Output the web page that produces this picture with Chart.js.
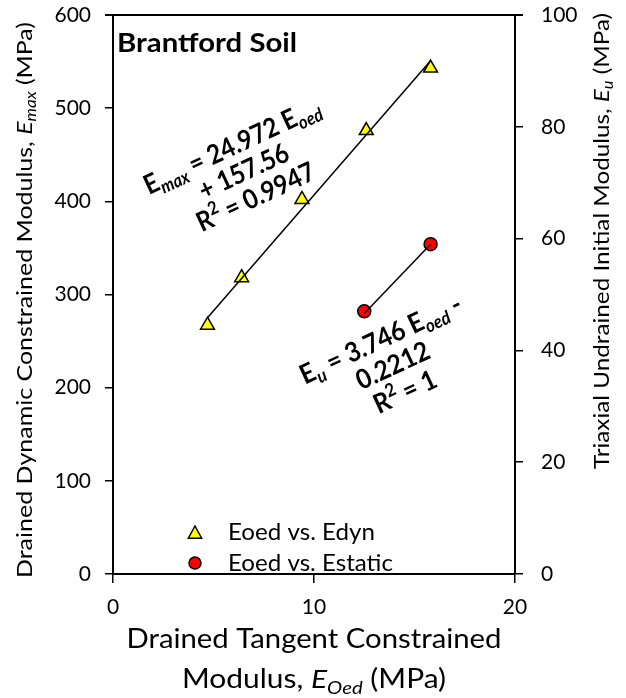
<!DOCTYPE html>
<html lang="en">
<head>
    <meta charset="UTF-8">
    <title>Brantford Soil</title>
    <script src="https://cdn.jsdelivr.net/npm/chart.js"></script>
    <style>
        html, body { margin: 0; padding: 0; background: #fff; }
        #wrap { width: 626px; height: 698px; }
    </style>
</head>
<body>
    <div id="wrap"><canvas id="soilChart" width="626" height="698"></canvas></div>
    <script>
        // Eoed vs. Edyn (left axis, MPa)
        const eoedDyn = [4.7, 6.4, 9.4, 12.6, 15.8];
        const edyn = [267, 318, 402, 476, 543];
        // trendline end points
        const trendDynX = [4.7, 15.8];
        const trendDynY = [275, 551];

        // Eoed vs. Estatic (right axis, MPa)
        const eoedStatic = [12.5, 15.8];
        const estatic = [47, 59];
        const trendStaticX = [12.5, 15.8];
        const trendStaticY = [46.6, 59];

        const xTicks = [0, 10, 20];
        const yTicks = [0, 100, 200, 300, 400, 500, 600];
        const y2Ticks = [0, 20, 40, 60, 80, 100];

        const FONT = 'Lato';
        const pts = (xs, ys) => xs.map((x, i) => ({ x: x, y: ys[i] }));

        // draw a line of text made of pieces (subscript / superscript / italic)
        // fit: a target width (>1) or a squeeze factor (<=1)
        function drawParts(ctx, parts, x, y, size, bold, align, fit) {
            const fontOf = p => {
                const s = (p.sub || p.sup) ? size * 0.68 : size;
                return (p.italic ? 'italic ' : '') + (bold ? 'bold ' : '') + s + 'px ' + FONT;
            };
            let w = 0;
            parts.forEach(p => { ctx.font = fontOf(p); p.w = ctx.measureText(p.t).width; w += p.w; });
            let sx = 1;
            if (fit) sx = fit > 1 ? fit / w : fit;
            ctx.save();
            ctx.translate(x, y);
            ctx.scale(sx, 1);
            let cx = align === 'center' ? -w / 2 : 0;
            ctx.textBaseline = 'middle';
            ctx.textAlign = 'left';
            ctx.fillStyle = '#000';
            parts.forEach(p => {
                ctx.font = fontOf(p);
                const dy = p.sub ? size * 0.3 : (p.sup ? -size * 0.3 : 0);
                ctx.fillText(p.t, cx, dy);
                cx += p.w;
            });
            ctx.restore();
        }

        function drawBlock(ctx, lines, cx, cy, deg, size, lh, squeeze) {
            ctx.save();
            ctx.translate(cx, cy);
            ctx.rotate(deg * Math.PI / 180);
            const n = lines.length;
            lines.forEach((parts, i) => {
                drawParts(ctx, parts, 0, (i - (n - 1) / 2) * lh, size, true, 'center', squeeze);
            });
            ctx.restore();
        }

        const extras = {
            id: 'extras',
            afterDraw(chart) {
                const ctx = chart.ctx;
                const a = chart.chartArea;

                // top frame line
                ctx.save();
                ctx.strokeStyle = '#000';
                ctx.lineWidth = 2;
                ctx.beginPath();
                ctx.moveTo(a.left - 8, a.top);
                ctx.lineTo(a.right + 8, a.top);
                ctx.stroke();
                ctx.restore();

                // axis titles
                ctx.save();
                ctx.translate(25, 300);
                ctx.rotate(-Math.PI / 2);
                drawParts(ctx, [
                    { t: 'Drained Dynamic Constrained Modulus, ' },
                    { t: 'E', italic: true },
                    { t: 'max', sub: true, italic: true },
                    { t: ' (MPa)' }
                ], 0, 0, 22, false, 'center', 556);
                ctx.restore();

                ctx.save();
                ctx.translate(602, 241);
                ctx.rotate(-Math.PI / 2);
                drawParts(ctx, [
                    { t: 'Triaxial Undrained Initial Modulus, ' },
                    { t: 'E', italic: true },
                    { t: 'u', sub: true, italic: true },
                    { t: ' (MPa)' }
                ], 0, 0, 22, false, 'center', 456);
                ctx.restore();

                drawParts(ctx, [{ t: 'Drained Tangent Constrained' }], 314, 640, 26, false, 'center', 375);
                drawParts(ctx, [
                    { t: 'Modulus, ' },
                    { t: 'E', italic: true },
                    { t: 'Oed', sub: true, italic: true },
                    { t: ' (MPa)' }
                ], 314, 680, 26, false, 'center', 264);

                // label and equations
                drawParts(ctx, [{ t: 'Brantford Soil' }], 117, 43, 27, true, 'left', 180);

                drawBlock(ctx, [
                    [{ t: 'E' }, { t: 'max', sub: true, italic: true }, { t: ' = 24.972 E' }, { t: 'oed', sub: true, italic: true }],
                    [{ t: '+ 157.56' }],
                    [{ t: 'R' }, { t: '2', sup: true }, { t: ' = 0.9947' }]
                ], 244, 172, -25, 27, 28, 0.9);

                drawBlock(ctx, [
                    [{ t: 'E' }, { t: 'u', sub: true, italic: true }, { t: ' = 3.746 E' }, { t: 'oed', sub: true, italic: true }, { t: ' -' }],
                    [{ t: '0.2212' }],
                    [{ t: 'R' }, { t: '2', sup: true }, { t: ' = 1' }]
                ], 393, 366, -25, 27, 29, 0.92);

                // legend, clipped to plot area
                ctx.save();
                ctx.beginPath();
                ctx.rect(a.left, a.top, a.right - a.left, a.bottom - a.top - 1);
                ctx.clip();
                ctx.lineWidth = 1.5;
                ctx.strokeStyle = '#000';
                ctx.fillStyle = '#ffff00';
                const tx = 195, ty = 533, r = 7;
                ctx.beginPath();
                ctx.moveTo(tx, ty - r);
                ctx.lineTo(tx + r * 0.95, ty + r * 0.75);
                ctx.lineTo(tx - r * 0.95, ty + r * 0.75);
                ctx.closePath();
                ctx.fill();
                ctx.stroke();
                ctx.fillStyle = '#ff0000';
                ctx.beginPath();
                ctx.arc(195, 563, 6, 0, Math.PI * 2);
                ctx.fill();
                ctx.stroke();
                drawParts(ctx, [{ t: 'Eoed vs. Edyn' }], 228, 533, 23, false, 'left', 147);
                drawParts(ctx, [{ t: 'Eoed vs. Estatic' }], 228, 564, 23, false, 'left', 165);
                ctx.restore();
            }
        };

        const tickFont = { family: FONT, size: 21 };
        const noPad = s => { s.paddingTop = 0; s.paddingBottom = 0; s.paddingLeft = 0; s.paddingRight = 0; };

        new Chart(document.getElementById('soilChart'), {
            type: 'scatter',
            data: {
                datasets: [
                    {
                        label: 'Eoed vs. Edyn',
                        data: pts(eoedDyn, edyn),
                        yAxisID: 'y',
                        pointStyle: 'triangle',
                        pointRadius: 8,
                        pointHoverRadius: 8,
                        backgroundColor: '#ffff00',
                        borderColor: '#000',
                        borderWidth: 1.5,
                        order: 2
                    },
                    {
                        label: 'Edyn trend',
                        data: pts(trendDynX, trendDynY),
                        yAxisID: 'y',
                        showLine: true,
                        pointRadius: 0,
                        borderColor: '#000',
                        borderWidth: 1.5,
                        order: 1
                    },
                    {
                        label: 'Eoed vs. Estatic',
                        data: pts(eoedStatic, estatic),
                        yAxisID: 'y2',
                        pointStyle: 'circle',
                        pointRadius: 6.5,
                        pointHoverRadius: 6.5,
                        backgroundColor: '#ff0000',
                        borderColor: '#000',
                        borderWidth: 1.5,
                        order: 2
                    },
                    {
                        label: 'Estatic trend',
                        data: pts(trendStaticX, trendStaticY),
                        yAxisID: 'y2',
                        showLine: true,
                        pointRadius: 0,
                        borderColor: '#000',
                        borderWidth: 1.5,
                        order: 1
                    }
                ]
            },
            options: {
                responsive: false,
                animation: false,
                layout: { padding: { top: 15, left: 0, right: 0, bottom: 0 } },
                plugins: {
                    legend: { display: false },
                    tooltip: { enabled: false }
                },
                scales: {
                    x: {
                        type: 'linear',
                        min: xTicks[0],
                        max: xTicks[xTicks.length - 1],
                        afterBuildTicks: s => { s.ticks = xTicks.map(v => ({ value: v })); },
                        afterFit: s => { s.height = 124; noPad(s); },
                        ticks: { font: tickFont, color: '#000', padding: 12, maxRotation: 0 },
                        grid: { drawOnChartArea: false, tickLength: 9, color: '#000', lineWidth: 1.5 },
                        border: { color: '#000', width: 2 }
                    },
                    y: {
                        position: 'left',
                        min: 0,
                        max: 600,
                        afterBuildTicks: s => { s.ticks = yTicks.map(v => ({ value: v })); },
                        afterFit: s => { s.width = 113; noPad(s); },
                        ticks: { font: tickFont, color: '#000', padding: 14 },
                        grid: { drawOnChartArea: false, tickLength: 8, color: '#000', lineWidth: 1.5 },
                        border: { color: '#000', width: 2 }
                    },
                    y2: {
                        position: 'right',
                        min: 0,
                        max: 100,
                        afterBuildTicks: s => { s.ticks = y2Ticks.map(v => ({ value: v })); },
                        afterFit: s => { s.width = 111; noPad(s); },
                        ticks: { font: tickFont, color: '#000', padding: 18 },
                        grid: { drawOnChartArea: false, tickLength: 8, color: '#000', lineWidth: 1.5 },
                        border: { color: '#000', width: 2 }
                    }
                }
            },
            plugins: [extras]
        });
    </script>
</body>
</html>
